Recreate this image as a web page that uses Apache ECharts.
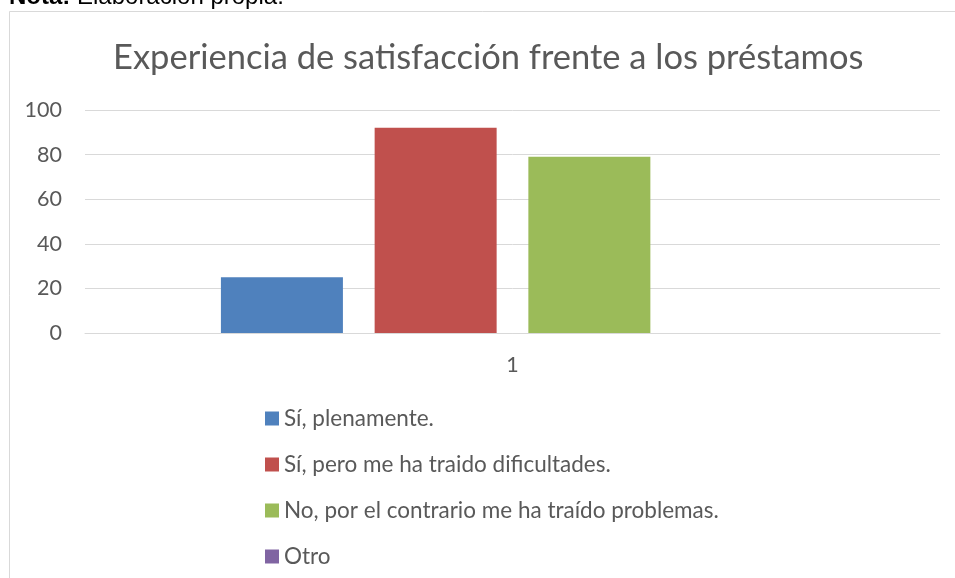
<!DOCTYPE html>
<html>
<head>
<meta charset="utf-8">
<script src="https://cdn.jsdelivr.net/npm/echarts@6/dist/echarts.min.js"></script>
<style>
html,body{margin:0;padding:0;background:#fff;}
#c{width:955px;height:578px;}
</style>
</head>
<body>
<div id="c"></div>
<script>
const categories = ['1'];
const seriesNames = ['Sí, plenamente.', 'Sí, pero me ha traido dificultades.', 'No, por el contrario me ha traído problemas.', 'Otro'];
const seriesValues = [[25], [92], [79], [0]];
const seriesColors = ['#4f81bd', '#c0504d', '#9bbb59', '#8064a2'];
const yTicks = { min: 0, max: 100, interval: 20 };
const titleText = 'Experiencia de satisfacción frente a los préstamos';

const chart = echarts.init(document.getElementById('c'), null, { renderer: 'canvas' });
const font = 'Lato';
chart.setOption({
  animation: false,
  backgroundColor: '#fff',
  title: {
    text: titleText,
    left: 113, top: 40,
    padding: 0,
    textStyle: { fontFamily: font, fontSize: 34.5, fontWeight: 'normal', color: '#595959' }
  },
  graphic: [
    { type: 'rect', z: -1, shape: { x: 9.5, y: 11.5, width: 1000, height: 1000 },
      style: { fill: 'none', stroke: '#d9d9d9', lineWidth: 1 } },
    { type: 'text', left: 9, top: -15,
      style: {
        text: '{b|Nota:} Elaboración propia.',
        rich: { b: { fontWeight: 'bold', fontFamily: 'Liberation Sans', fontSize: 24, fill: '#000' } },
        fontFamily: 'Liberation Sans', fontSize: 24, fill: '#000'
      } }
  ],
  grid: { left: 85, right: 15, top: 110, bottom: 245, containLabel: false },
  legend: {
    orient: 'vertical', left: 260, top: 402,
    icon: 'rect', itemWidth: 14, itemHeight: 14, itemGap: 23,
    data: seriesNames,
    textStyle: { fontFamily: font, fontSize: 22.5, color: '#595959', lineHeight: 22 }
  },
  xAxis: {
    type: 'category', data: categories,
    axisLine: { show: true, lineStyle: { color: '#d9d9d9', width: 1 } },
    axisTick: { show: false },
    axisLabel: { fontFamily: font, fontSize: 21.5, color: '#595959', margin: 21 }
  },
  yAxis: {
    type: 'value', min: yTicks.min, max: yTicks.max, interval: yTicks.interval,
    axisLine: { show: false }, axisTick: { show: false },
    splitLine: { lineStyle: { color: '#d9d9d9', width: 1 } },
    axisLabel: { fontFamily: font, fontSize: 21.5, color: '#595959', margin: 23 }
  },
  series: seriesNames.map((n, i) => ({
    name: n, type: 'bar', data: seriesValues[i],
    barWidth: 122, barGap: '26%',
    itemStyle: { color: seriesColors[i] }
  }))
});
</script>
</body>
</html>
